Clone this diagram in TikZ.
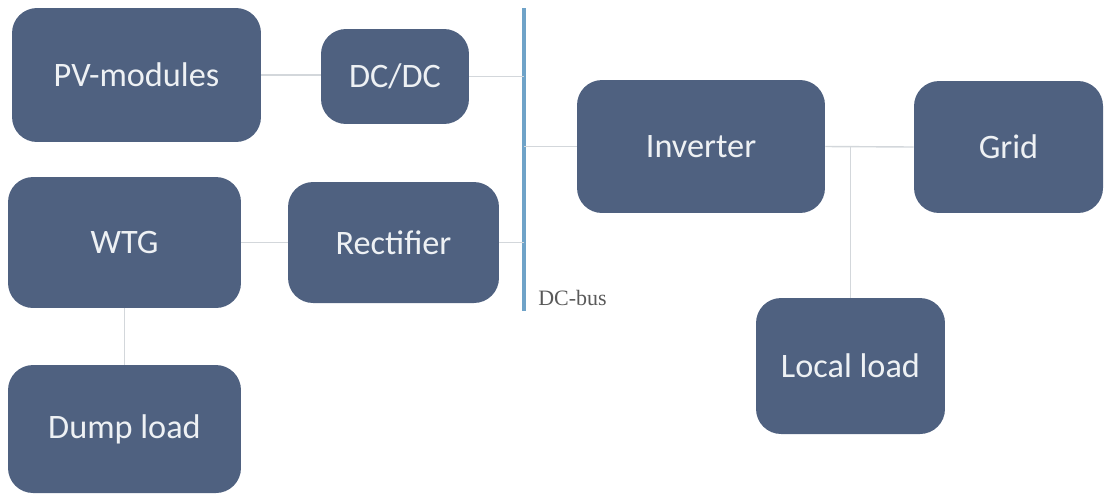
\documentclass[tikz,border=0pt]{standalone}
\usepackage{fontspec}
\setmainfont{Liberation Serif}
\newfontfamily\boxfont{Carlito}
\definecolor{boxblue}{HTML}{4F6180}
\definecolor{boxtext}{HTML}{EEF1F4}
\definecolor{linkgray}{HTML}{D3D7DB}
\definecolor{busblue}{HTML}{6FA3C8}
\tikzset{
  blockbox/.style={draw=none, fill=boxblue, rounded corners=0.5cm, text=boxtext,
    font=\boxfont\fontsize{19.5}{22}\selectfont, inner sep=0pt},
  link/.style={draw=linkgray, line width=0.8pt},
  busline/.style={draw=busblue, line width=2.4pt},
}
\begin{document}
\begin{tikzpicture}[x=0.02cm, y=-0.02cm]
\useasboundingbox (0,0) rectangle (1104,495);
\node[blockbox, minimum width=4.98cm, minimum height=2.68cm] (pv) at (136.5,75) {PV-modules};
\node[blockbox, minimum width=2.96cm, minimum height=1.9cm] (dcdc) at (395,76.5) {DC/DC};
\node[blockbox, minimum width=4.66cm, minimum height=2.62cm] (wtg) at (124.5,242.5) {WTG};
\node[blockbox, minimum width=4.22cm, minimum height=2.42cm] (rect) at (393.5,242.5) {Rectifier};
\node[blockbox, minimum width=4.66cm, minimum height=2.56cm] (dump) at (124.5,429) {Dump load};
\node[blockbox, minimum width=4.96cm, minimum height=2.66cm] (inv) at (701,146.5) {Inverter};
\node[blockbox, minimum width=3.78cm, minimum height=2.64cm] (grid) at (1008.5,147) {Grid};
\node[blockbox, minimum width=3.78cm, minimum height=2.72cm] (local) at (850.5,366) {Local load};

\coordinate (bustop) at (524,8);
\coordinate (busbot) at (524,311);
\draw[busline] (bustop) -- (busbot);
\node[anchor=west, text=black!65, font=\fontsize{12.5}{14}\selectfont, inner sep=0pt] (buslabel) at (538,298) {DC-bus};

\draw[link] (pv.east) -- (pv.east -| dcdc.west);
\draw[link] (dcdc.east) -- (dcdc.east -| bustop);
\draw[link] (wtg.east) -- (rect.west);
\draw[link] (rect.east) -- (rect.east -| bustop);
\draw[link] (inv.west -| bustop) -- (inv.west);
\draw[link] (inv.east) -- (grid.west);
\draw[link] (local.north) -- (local.north |- inv.east);
\draw[link] (wtg.south) -- (dump.north);
\end{tikzpicture}
\end{document}
